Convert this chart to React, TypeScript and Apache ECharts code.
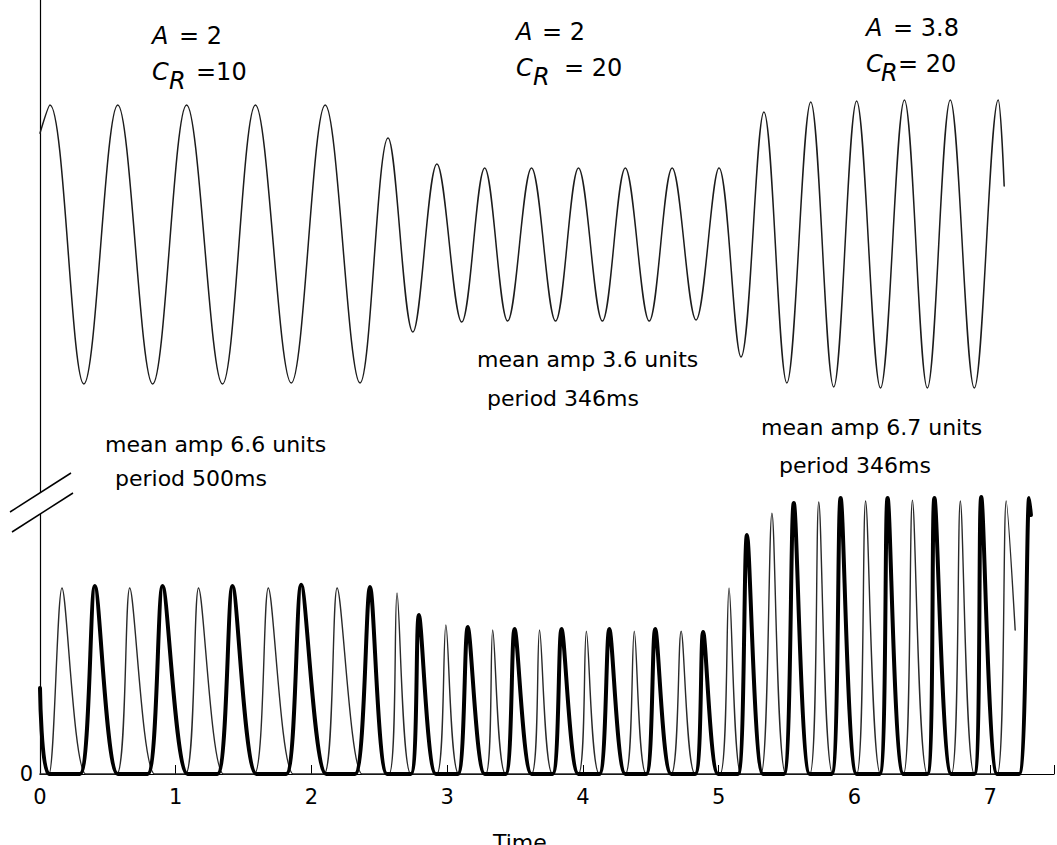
import React, { useEffect, useRef } from "react";
import * as echarts from "echarts";

// ---- data (time in s, amplitude in units) ----
const X_TICKS = [0, 1, 2, 3, 4, 5, 6, 7];
const X_MAX = 7.47;
const Y_MAX = 36.34;
// upper trace sits above the axis break; values are centred on its own mean
const UPPER_BASE = 24.86;

const UPPER: [number, number][] = [
  [0, 5.23], [0.073, 6.55], [0.323, -6.55], [0.573, 6.55], [0.83, -6.55],
  [1.08, 6.55], [1.344, -6.55], [1.587, 6.55], [1.851, -6.5], [2.101, 6.55],
  [2.358, -6.5], [2.564, 5.0], [2.747, -4.11], [2.924, 3.78], [3.107, -3.64],
  [3.276, 3.59], [3.445, -3.59], [3.621, 3.59], [3.798, -3.59], [3.967, 3.59],
  [4.143, -3.59], [4.312, 3.59], [4.488, -3.59], [4.657, 3.59], [4.833, -3.54],
  [5.002, 3.59], [5.164, -5.28], [5.333, 6.22], [5.502, -6.5], [5.678, 6.69],
  [5.847, -6.69], [6.016, 6.74], [6.192, -6.74], [6.368, 6.78], [6.537, -6.74],
  [6.706, 6.78], [6.883, -6.74], [7.059, 6.78], [7.103, 2.75],
];

const THIN: [number, number][] = [
  [0, 0], [0.066, 0], [0.162, 8.73], [0.338, 0],
  [0.566, 0], [0.661, 8.73], [0.845, 0],
  [1.072, 0], [1.168, 8.73], [1.352, 0],
  [1.579, 0], [1.682, 8.73], [1.866, 0],
  [2.093, 0], [2.189, 8.73], [2.373, 0],
  [2.571, 0], [2.63, 8.5], [2.732, 0],
  [2.923, 0], [2.99, 7.0], [3.085, 0],
  [3.283, 0], [3.335, 6.76], [3.43, 0],
  [3.621, 0], [3.68, 6.76], [3.776, 0],
  [3.966, 0], [4.025, 6.71], [4.121, 0],
  [4.312, 0], [4.378, 6.71], [4.466, 0],
  [4.65, 0], [4.723, 6.71], [4.826, 0],
  [5.01, 0], [5.076, 8.73], [5.164, 0],
  [5.311, 0], [5.392, 12.25], [5.494, 0],
  [5.671, 0], [5.737, 12.77], [5.84, 0],
  [6.016, 0], [6.082, 12.82], [6.192, 0],
  [6.361, 0], [6.427, 12.86], [6.537, 0],
  [6.714, 0], [6.78, 12.82], [6.883, 0],
  [7.052, 0], [7.118, 12.82], [7.184, 6.76],
];

const THICK: [number, number][] = [
  [0, 4.04], [0.066, 0],
  [0.294, 0], [0.404, 8.83], [0.573, 0],
  [0.793, 0], [0.903, 8.83], [1.087, 0],
  [1.307, 0], [1.418, 8.83], [1.594, 0],
  [1.814, 0], [1.924, 8.88], [2.108, 0],
  [2.321, 0], [2.431, 8.78], [2.556, 0],
  [2.732, 0], [2.791, 7.46], [2.916, 0],
  [3.078, 0], [3.151, 6.9], [3.276, 0],
  [3.43, 0], [3.496, 6.81], [3.621, 0],
  [3.776, 0], [3.842, 6.81], [3.966, 0],
  [4.121, 0], [4.194, 6.81], [4.312, 0],
  [4.466, 0], [4.532, 6.81], [4.65, 0],
  [4.826, 0], [4.885, 6.67], [4.995, 0],
  [5.142, 0], [5.208, 11.22], [5.325, 0],
  [5.48, 0], [5.553, 12.72], [5.671, 0],
  [5.832, 0], [5.898, 12.96], [6.016, 0],
  [6.185, 0], [6.244, 12.96], [6.361, 0],
  [6.537, 0], [6.589, 12.96], [6.714, 0],
  [6.883, 0], [6.934, 13.0], [7.052, 0],
  [7.213, 0], [7.287, 12.96], [7.3, 12.16],
];

const FONT = '"DejaVu Sans", sans-serif';

function txt(x: number, y: number, text: string, size: number, italic = false) {
  return {
    type: "text",
    x,
    y,
    z: 120,
    silent: true,
    style: {
      text,
      fill: "#000",
      fontFamily: FONT,
      fontSize: size,
      fontStyle: italic ? "italic" : "normal",
      textAlign: "left",
      textVerticalAlign: "middle",
      align: "left",
      verticalAlign: "middle",
    },
  };
}

function paramLabel(x: number, y: number, aRest: string, aRestX: number, rX: number, cRest: string, cRestX: number) {
  const F = 24;
  return [
    txt(x, y, "A", F, true),
    txt(aRestX, y, aRest, F),
    txt(x, y + 36, "C", F, true),
    txt(rX, y + 45, "R", F, true),
    txt(cRestX, y + 36, cRest, F),
  ];
}

export default function App() {
  const ref = useRef<HTMLDivElement>(null);

  useEffect(() => {
    if (!ref.current) return;
    const chart = echarts.init(ref.current, null, { renderer: "svg" });

    const line = (data: [number, number][], width: number, color: string, smooth: number, z: number) => ({
      type: "line",
      data,
      showSymbol: false,
      symbol: "none",
      smooth,
      silent: true,
      z,
      lineStyle: { color, width, join: "round", cap: "round" },
    });

    chart.setOption({
      animation: false,
      backgroundColor: "#fff",
      grid: { left: 40, right: 0, top: 0, bottom: 71 },
      xAxis: {
        type: "value",
        min: 0,
        max: X_MAX,
        interval: 1,
        axisLine: { show: true, lineStyle: { color: "#000", width: 1.2 } },
        axisTick: { show: true, inside: true, length: 9, lineStyle: { color: "#000", width: 1 } },
        axisLabel: {
          color: "#000",
          fontFamily: FONT,
          fontSize: 21,
          margin: 12,
          formatter: (v: number) => (X_TICKS.includes(v) ? String(v) : ""),
        },
        splitLine: { show: false },
      },
      yAxis: {
        type: "value",
        min: 0,
        max: Y_MAX,
        interval: Y_MAX,
        axisLine: { show: true, lineStyle: { color: "#000", width: 1.2 } },
        axisTick: { show: false },
        axisLabel: {
          color: "#000",
          fontFamily: FONT,
          fontSize: 21,
          margin: 7,
          formatter: (v: number) => (v === 0 ? "0" : ""),
        },
        splitLine: { show: false },
      },
      series: [
        line(UPPER.map(([t, v]) => [t, v + UPPER_BASE]) as [number, number][], 1.5, "#1c1c1c", 0.36, 2),
        line(THIN, 1.4, "#2a2a2a", 0.26, 3),
        line(THICK, 4, "#000", 0.26, 4),
      ],
      graphic: [
        // axis break
        { type: "rect", z: 100, silent: true, shape: { x: 35, y: 493, width: 10, height: 21 }, style: { fill: "#fff" } },
        { type: "line", z: 101, silent: true, shape: { x1: 10, y1: 512, x2: 71, y2: 473 }, style: { stroke: "#000", lineWidth: 1.5 } },
        { type: "line", z: 101, silent: true, shape: { x1: 12, y1: 532, x2: 73, y2: 493 }, style: { stroke: "#000", lineWidth: 1.5 } },
        ...paramLabel(152, 35.5, "= 2", 179, 169, "=10", 196),
        ...paramLabel(516, 32, "= 2", 542, 533, "= 20", 564),
        ...paramLabel(866, 27.5, "= 3.8", 893, 881, "= 20", 898),
        txt(105, 444, "mean amp 6.6 units", 22),
        txt(115, 478, "period 500ms", 22),
        txt(477, 359, "mean amp 3.6 units", 22),
        txt(487, 398, "period 346ms", 22),
        txt(761, 427.5, "mean amp 6.7 units", 22),
        txt(779, 465, "period 346ms", 22),
        txt(493, 842, "Time", 22),
      ],
    });

    return () => chart.dispose();
  }, []);

  return (
    <div
      ref={ref}
      style={{ position: "fixed", left: 0, top: 0, width: 1057, height: 845, background: "#fff" }}
    />
  );
}
